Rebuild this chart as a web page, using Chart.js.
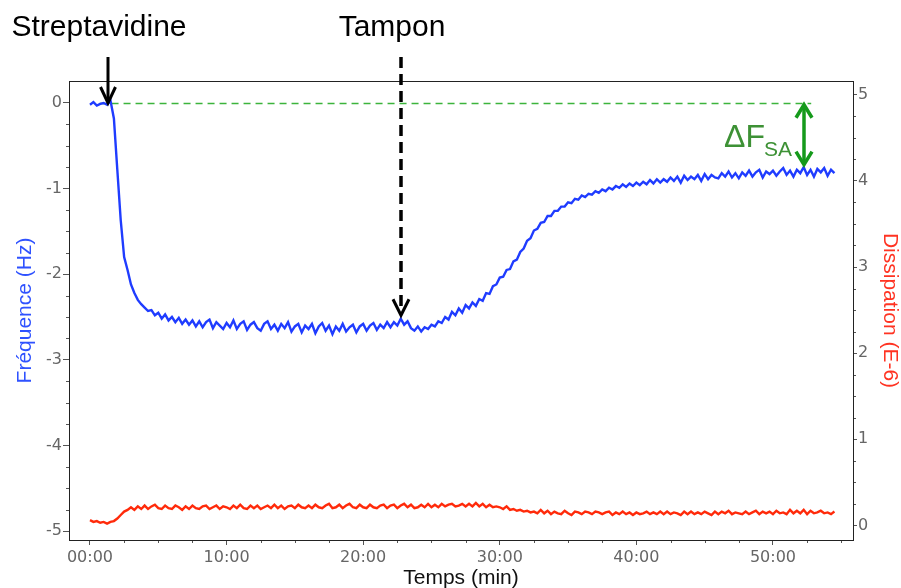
<!DOCTYPE html>
<html>
<head>
<meta charset="utf-8">
<script src="https://cdn.jsdelivr.net/npm/chart.js@4"></script>
<style>
  html, body { margin: 0; padding: 0; background: #fff; }
  canvas { display: block; }
</style>
</head>
<body>
<canvas id="qcmChart" width="901" height="588"></canvas>
<script>
// Time (min), one reading every 15 s
const times = [
  0, 0.25, 0.5, 0.75, 1, 1.25, 1.5, 1.75,
  2, 2.25, 2.5, 2.75, 3, 3.25, 3.5, 3.75,
  4, 4.25, 4.5, 4.75, 5, 5.25, 5.5, 5.75,
  6, 6.25, 6.5, 6.75, 7, 7.25, 7.5, 7.75,
  8, 8.25, 8.5, 8.75, 9, 9.25, 9.5, 9.75,
  10, 10.25, 10.5, 10.75, 11, 11.25, 11.5, 11.75,
  12, 12.25, 12.5, 12.75, 13, 13.25, 13.5, 13.75,
  14, 14.25, 14.5, 14.75, 15, 15.25, 15.5, 15.75,
  16, 16.25, 16.5, 16.75, 17, 17.25, 17.5, 17.75,
  18, 18.25, 18.5, 18.75, 19, 19.25, 19.5, 19.75,
  20, 20.25, 20.5, 20.75, 21, 21.25, 21.5, 21.75,
  22, 22.25, 22.5, 22.75, 23, 23.25, 23.5, 23.75,
  24, 24.25, 24.5, 24.75, 25, 25.25, 25.5, 25.75,
  26, 26.25, 26.5, 26.75, 27, 27.25, 27.5, 27.75,
  28, 28.25, 28.5, 28.75, 29, 29.25, 29.5, 29.75,
  30, 30.25, 30.5, 30.75, 31, 31.25, 31.5, 31.75,
  32, 32.25, 32.5, 32.75, 33, 33.25, 33.5, 33.75,
  34, 34.25, 34.5, 34.75, 35, 35.25, 35.5, 35.75,
  36, 36.25, 36.5, 36.75, 37, 37.25, 37.5, 37.75,
  38, 38.25, 38.5, 38.75, 39, 39.25, 39.5, 39.75,
  40, 40.25, 40.5, 40.75, 41, 41.25, 41.5, 41.75,
  42, 42.25, 42.5, 42.75, 43, 43.25, 43.5, 43.75,
  44, 44.25, 44.5, 44.75, 45, 45.25, 45.5, 45.75,
  46, 46.25, 46.5, 46.75, 47, 47.25, 47.5, 47.75,
  48, 48.25, 48.5, 48.75, 49, 49.25, 49.5, 49.75,
  50, 50.25, 50.5, 50.75, 51, 51.25, 51.5, 51.75,
  52, 52.25, 52.5, 52.75, 53, 53.25, 53.5, 53.75,
  54, 54.25, 54.5
];

// Frequency shift (Hz), left axis
const frequency = [
  -0.02, 0.01, -0.03, -0.01, 0.00, -0.02, 0.03, -0.18,
  -0.78, -1.37, -1.80, -1.95, -2.12, -2.22, -2.30, -2.35,
  -2.39, -2.43, -2.42, -2.48, -2.45, -2.52, -2.47, -2.54,
  -2.50, -2.56, -2.51, -2.58, -2.53, -2.59, -2.54, -2.61,
  -2.55, -2.62, -2.56, -2.53, -2.63, -2.56, -2.60, -2.64,
  -2.57, -2.62, -2.54, -2.64, -2.58, -2.55, -2.65, -2.59,
  -2.56, -2.63, -2.66, -2.58, -2.55, -2.64, -2.59, -2.66,
  -2.58, -2.63, -2.56, -2.67, -2.61, -2.58, -2.68, -2.60,
  -2.64, -2.58, -2.69, -2.61, -2.57, -2.66, -2.60, -2.70,
  -2.61, -2.66, -2.58, -2.67, -2.62, -2.59, -2.68, -2.61,
  -2.58, -2.66, -2.60, -2.57, -2.65, -2.59, -2.63, -2.56,
  -2.62, -2.56, -2.60, -2.52, -2.59, -2.55, -2.63, -2.66,
  -2.61, -2.67, -2.62, -2.64, -2.59, -2.61, -2.55, -2.57,
  -2.50, -2.53, -2.44, -2.48, -2.40, -2.45, -2.36, -2.40,
  -2.33, -2.37, -2.29, -2.31, -2.22, -2.23, -2.14, -2.12,
  -2.04, -2.03, -1.95, -1.94, -1.85, -1.83, -1.74, -1.70,
  -1.61, -1.58, -1.49, -1.47, -1.40, -1.39, -1.32, -1.32,
  -1.26, -1.26, -1.21, -1.21, -1.16, -1.17, -1.12, -1.13,
  -1.08, -1.10, -1.06, -1.07, -1.03, -1.05, -1.01, -1.03,
  -0.99, -1.01, -0.97, -0.99, -0.95, -0.98, -0.94, -0.97,
  -0.93, -0.96, -0.92, -0.95, -0.90, -0.94, -0.89, -0.93,
  -0.89, -0.92, -0.87, -0.91, -0.86, -0.93, -0.85, -0.90,
  -0.86, -0.89, -0.84, -0.91, -0.83, -0.89, -0.84, -0.87,
  -0.88, -0.82, -0.86, -0.80, -0.87, -0.82, -0.88, -0.81,
  -0.85, -0.79, -0.86, -0.81, -0.78, -0.87, -0.80, -0.83,
  -0.79, -0.85, -0.80, -0.76, -0.84, -0.79, -0.86, -0.78,
  -0.82, -0.75, -0.84, -0.78, -0.86, -0.77, -0.81, -0.76,
  -0.85, -0.78, -0.82
];

// Dissipation (E-6), right axis
const dissipation = [
  0.06, 0.04, 0.05, 0.03, 0.04, 0.02, 0.04, 0.05,
  0.08, 0.12, 0.16, 0.18, 0.21, 0.18, 0.22, 0.19,
  0.23, 0.19, 0.22, 0.24, 0.20, 0.19, 0.23, 0.20,
  0.19, 0.23, 0.21, 0.18, 0.22, 0.19, 0.23, 0.20,
  0.19, 0.22, 0.23, 0.19, 0.21, 0.23, 0.19, 0.22,
  0.21, 0.19, 0.23, 0.20, 0.24, 0.20, 0.19, 0.23,
  0.20, 0.23, 0.19, 0.21, 0.23, 0.20, 0.24, 0.20,
  0.23, 0.19, 0.22, 0.23, 0.20, 0.24, 0.21, 0.20,
  0.23, 0.20, 0.24, 0.21, 0.20, 0.23, 0.25, 0.20,
  0.21, 0.24, 0.20, 0.23, 0.25, 0.21, 0.20, 0.24,
  0.21, 0.20, 0.24, 0.21, 0.20, 0.23, 0.24, 0.20,
  0.23, 0.24, 0.20, 0.23, 0.25, 0.21, 0.24, 0.20,
  0.21, 0.24, 0.21, 0.25, 0.21, 0.24, 0.21, 0.25,
  0.22, 0.24, 0.25, 0.22, 0.23, 0.25, 0.22, 0.25,
  0.22, 0.26, 0.22, 0.25, 0.21, 0.24, 0.21, 0.22,
  0.21, 0.19, 0.22, 0.18, 0.19, 0.17, 0.18, 0.16,
  0.17, 0.15, 0.16, 0.14, 0.18, 0.14, 0.17, 0.13,
  0.16, 0.14, 0.13, 0.17, 0.14, 0.12, 0.16, 0.15,
  0.13, 0.16, 0.15, 0.13, 0.16, 0.15, 0.13, 0.15,
  0.16, 0.12, 0.15, 0.13, 0.16, 0.13, 0.15, 0.12,
  0.15, 0.13, 0.14, 0.16, 0.13, 0.15, 0.13, 0.16,
  0.13, 0.16, 0.13, 0.15, 0.14, 0.12, 0.16, 0.13,
  0.16, 0.13, 0.15, 0.13, 0.16, 0.14, 0.12, 0.16,
  0.13, 0.16, 0.14, 0.17, 0.13, 0.15, 0.14, 0.13,
  0.16, 0.13, 0.15, 0.17, 0.13, 0.16, 0.14, 0.16,
  0.13, 0.17, 0.14, 0.15, 0.13, 0.18, 0.14, 0.17,
  0.14, 0.18, 0.13, 0.17, 0.14, 0.15, 0.17, 0.14,
  0.15, 0.13, 0.16
];

const timeTicks = [0, 10, 20, 30, 40, 50];
const timeTickLabels = ["00:00", "10:00", "20:00", "30:00", "40:00", "50:00"];
const freqTicks = [0, -1, -2, -3, -4, -5];
const dissTicks = [0, 1, 2, 3, 4, 5];

// Annotation anchors, in data units
const injectTime = 1.3;      // Streptavidine
const bufferTime = 22.8;     // Tampon
const bufferLevel = -2.48;
const refStart = 0.7;
const refEnd = 52.8;
const refLevel = 0;
const deltaTime = 52.3;
const deltaTop = -0.02;
const deltaBottom = -0.72;

const tickFont = { family: "'DejaVu Sans', Verdana, sans-serif", size: 16 };
const titleFont = { family: "'Liberation Sans', Arial, sans-serif", size: 21, lineHeight: 1 };
const labelFont = "30px 'Liberation Sans', Arial, sans-serif";

function chevron(ctx, x, tipY, dir, half, len) {
  ctx.beginPath();
  ctx.moveTo(x - half, tipY - dir * len);
  ctx.lineTo(x, tipY);
  ctx.lineTo(x + half, tipY - dir * len);
  ctx.stroke();
}

// Reference level, frame, minor ticks, arrows and labels
const decorations = {
  id: "decorations",
  beforeDatasetsDraw(chart) {
    const { ctx, scales: { x, y } } = chart;
    const py = Math.round(y.getPixelForValue(refLevel)) + 0.5;
    ctx.save();
    ctx.strokeStyle = "#3cb43c";
    ctx.lineWidth = 1.5;
    ctx.setLineDash([7, 5]);
    ctx.beginPath();
    ctx.moveTo(x.getPixelForValue(refStart), py);
    ctx.lineTo(x.getPixelForValue(refEnd), py);
    ctx.stroke();
    ctx.restore();
  },
  afterDraw(chart) {
    const { ctx, chartArea: a, scales: { x, y, y1 } } = chart;
    ctx.save();

    // minor ticks
    ctx.strokeStyle = "#555";
    ctx.lineWidth = 1;
    ctx.beginPath();
    for (let t = 2.5; t <= 55; t += 2.5) {
      if (t % 10 === 0) continue;
      const px = Math.round(x.getPixelForValue(t)) + 0.5;
      ctx.moveTo(px, a.bottom);
      ctx.lineTo(px, a.bottom + 3);
    }
    for (let v = -5; v <= 0; v += 0.25) {
      if (Number.isInteger(v)) continue;
      const py = Math.round(y.getPixelForValue(v)) + 0.5;
      ctx.moveTo(a.left - 3, py);
      ctx.lineTo(a.left, py);
    }
    for (let v = 0; v <= 5; v += 0.25) {
      if (Number.isInteger(v)) continue;
      const py = Math.round(y1.getPixelForValue(v)) + 0.5;
      ctx.moveTo(a.right, py);
      ctx.lineTo(a.right + 3, py);
    }
    ctx.stroke();

    // frame
    ctx.strokeStyle = "#222";
    ctx.strokeRect(Math.round(a.left) + 0.5, Math.round(a.top) + 0.5,
                   Math.round(a.width), Math.round(a.height));

    // Streptavidine arrow (solid)
    ctx.strokeStyle = "#000";
    ctx.lineWidth = 3;
    ctx.lineJoin = "miter";
    const sx = Math.round(x.getPixelForValue(injectTime));
    const sTip = y.getPixelForValue(refLevel);
    ctx.beginPath();
    ctx.moveTo(sx, 57);
    ctx.lineTo(sx, sTip - 2);
    ctx.stroke();
    chevron(ctx, sx, sTip, 1, 7.5, 16);

    // Tampon arrow (dashed)
    const bx = Math.round(x.getPixelForValue(bufferTime));
    const bTip = y.getPixelForValue(bufferLevel);
    ctx.lineWidth = 3.5;
    ctx.setLineDash([11, 6]);
    ctx.beginPath();
    ctx.moveTo(bx, 57);
    ctx.lineTo(bx, bTip - 3);
    ctx.stroke();
    ctx.setLineDash([]);
    ctx.lineWidth = 3;
    chevron(ctx, bx, bTip, 1, 8, 16);

    // labels
    ctx.fillStyle = "#000";
    ctx.font = labelFont;
    ctx.textAlign = "center";
    ctx.textBaseline = "alphabetic";
    ctx.fillText("Streptavidine", sx - 9, 36);
    ctx.fillText("Tampon", bx - 9, 36);

    // delta F double arrow
    const dx = Math.round(x.getPixelForValue(deltaTime));
    const dTop = y.getPixelForValue(deltaTop);
    const dBot = y.getPixelForValue(deltaBottom);
    ctx.strokeStyle = "#159a1b";
    ctx.lineWidth = 3.5;
    ctx.beginPath();
    ctx.moveTo(dx, dTop + 2);
    ctx.lineTo(dx, dBot - 2);
    ctx.stroke();
    chevron(ctx, dx, dTop, -1, 8, 13);
    chevron(ctx, dx, dBot, 1, 8, 13);

    ctx.fillStyle = "#3d9135";
    ctx.textAlign = "left";
    ctx.font = "32px 'Liberation Sans', Arial, sans-serif";
    ctx.fillText("\u0394F", dx - 80, dTop + 42);
    ctx.font = "21px 'Liberation Sans', Arial, sans-serif";
    ctx.fillText("SA", dx - 40, dTop + 51);

    ctx.restore();
  }
};

const ctx = document.getElementById("qcmChart").getContext("2d");
const qcmChart = new Chart(ctx, {
  type: "line",
  data: {
    datasets: [
      {
        label: "Fréquence (Hz)",
        data: frequency.map((v, i) => ({ x: times[i], y: v })),
        yAxisID: "y",
        borderColor: "#1f3cff",
        borderWidth: 2.4,
        pointRadius: 0,
        tension: 0,
      },
      {
        label: "Dissipation (E-6)",
        data: dissipation.map((v, i) => ({ x: times[i], y: v })),
        yAxisID: "y1",
        borderColor: "#ff2a0a",
        borderWidth: 2.4,
        pointRadius: 0,
        tension: 0,
      },
    ],
  },
  options: {
    responsive: false,
    animation: false,
    layout: { padding: { top: 81, left: 0, right: 0, bottom: 0 } },
    plugins: {
      legend: { display: false },
      tooltip: { enabled: false },
    },
    scales: {
      x: {
        type: "linear",
        min: -1.537,
        max: 55.86,
        afterFit: (s) => { s.height = 48; },
        afterBuildTicks: (s) => { s.ticks = timeTicks.map((v) => ({ value: v })); },
        ticks: {
          autoSkip: false,
          maxRotation: 0,
          padding: 3,
          color: "#666",
          font: tickFont,
          callback: (v, i) => timeTickLabels[i],
        },
        grid: { drawOnChartArea: false, tickLength: 5, tickColor: "#555" },
        border: { display: false },
        title: {
          display: true,
          text: "Temps (min)",
          color: "#111",
          font: titleFont,
          padding: { top: 0, bottom: -1 },
        },
      },
      y: {
        position: "left",
        min: -5.105,
        max: 0.257,
        afterFit: (s) => { s.width = 69; },
        afterBuildTicks: (s) => { s.ticks = freqTicks.map((v) => ({ value: v })); },
        ticks: { padding: 1, color: "#666", font: tickFont },
        grid: { drawOnChartArea: false, tickLength: 6, tickColor: "#555" },
        border: { display: false },
        title: {
          display: true,
          text: "Fréquence (Hz)",
          color: "#2f52ff",
          font: titleFont,
          padding: { top: 15, bottom: 0 },
        },
      },
      y1: {
        position: "right",
        min: -0.17,
        max: 5.16,
        afterFit: (s) => { s.width = 48; },
        afterBuildTicks: (s) => { s.ticks = dissTicks.map((v) => ({ value: v })); },
        ticks: { padding: 1, color: "#666", font: tickFont },
        grid: { drawOnChartArea: false, tickLength: 4, tickColor: "#555" },
        border: { display: false },
        title: {
          display: true,
          text: "Dissipation (E-6)",
          color: "#ff3322",
          font: titleFont,
          padding: { top: 1, bottom: 0 },
        },
      },
    },
  },
  plugins: [decorations],
});
</script>
</body>
</html>
